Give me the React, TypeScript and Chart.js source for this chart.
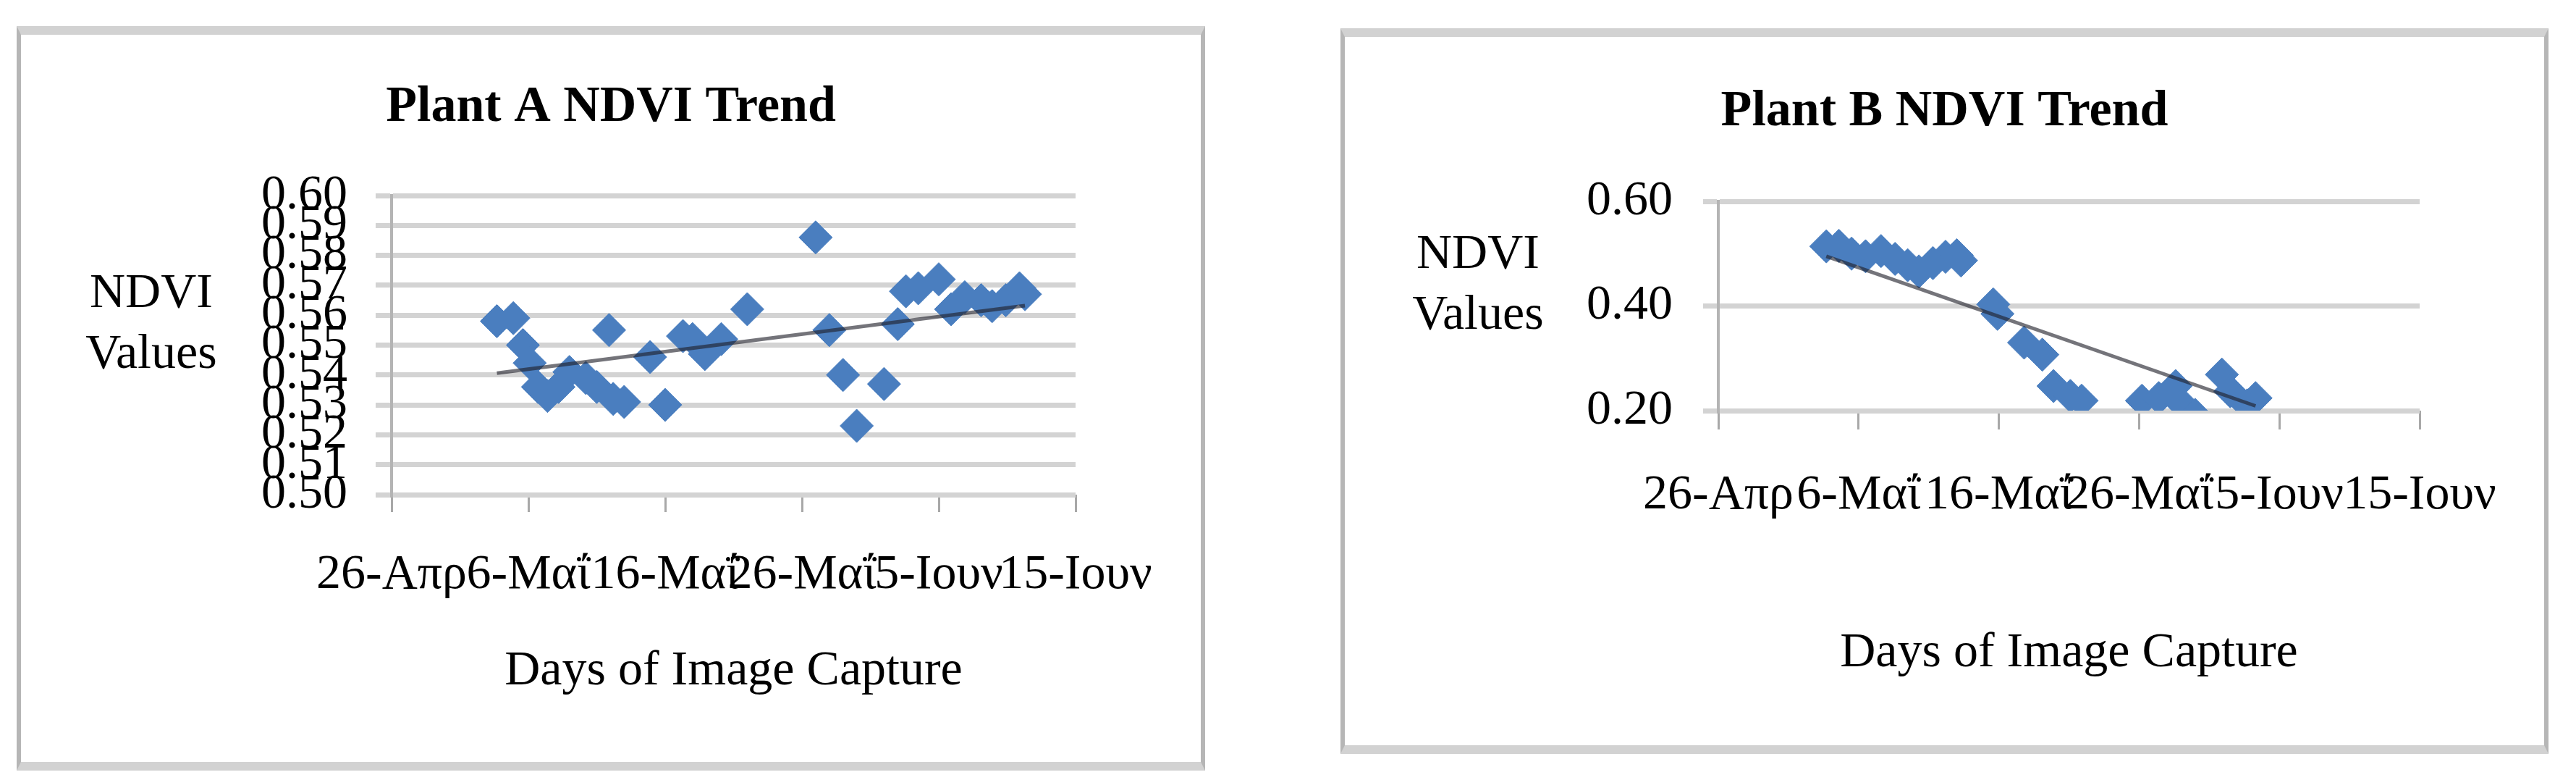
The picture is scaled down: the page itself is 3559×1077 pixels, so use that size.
import React, { useEffect, useRef } from 'react';
import { Chart, registerables } from 'chart.js';

Chart.register(...registerables);
Chart.defaults.font.family = '"Liberation Serif", "Times New Roman", serif';
Chart.defaults.color = '#000';

// x axis: days after 26 April
const xTickDays = [0, 10, 20, 30, 40, 50];
const xTickLabels = ['26-Απρ', '6-Μαΐ', '16-Μαΐ', '26-Μαΐ', '5-Ιουν', '15-Ιουν'];

// Plant A
const plantADays = [
  7.7, 8.9, 9.6, 10.1, 10.7, 11.4, 12.2, 13, 14.2, 15, 15.9, 16.2, 17, 18.9, 20, 21.3, 22, 22.9,
  24.1, 26, 31, 32, 33, 34, 36, 37, 37.6, 38.5, 40, 40.9, 41.9, 43.1, 43.9, 44.9, 45.9, 46.3,
];
const plantAValues = [
  0.558, 0.559, 0.550, 0.544, 0.536, 0.533, 0.536, 0.541, 0.539, 0.536, 0.555, 0.532, 0.531, 0.546,
  0.530, 0.553, 0.552, 0.547, 0.552, 0.562, 0.586, 0.555, 0.540, 0.523, 0.537, 0.557, 0.568, 0.569,
  0.572, 0.562, 0.566, 0.565, 0.563, 0.565, 0.569, 0.567,
];
const plantATrendDays = [7.7, 46.3];
const plantATrendValues = [0.5406, 0.5632];
const plantAYTicks = [0.5, 0.51, 0.52, 0.53, 0.54, 0.55, 0.56, 0.57, 0.58, 0.59, 0.6];
const plantAYLabels = ['0.50', '0.51', '0.52', '0.53', '0.54', '0.55', '0.56', '0.57', '0.58', '0.59', '0.60'];

// Plant B
const plantBDays = [
  7.7, 8.6, 9.5, 10.5, 11.6, 12.6, 13.5, 14.3, 15.3, 16.2, 17.0, 17.3, 19.6, 19.9, 21.8, 23.1,
  23.9, 25.1, 25.9, 30.2, 31.4, 32.6, 33, 34, 35.9, 36.5, 37.7, 38.3,
];
const plantBValues = [
  0.514, 0.515, 0.500, 0.495, 0.505, 0.490, 0.478, 0.466, 0.482, 0.494, 0.497, 0.487, 0.403, 0.385,
  0.330, 0.307, 0.247, 0.228, 0.219, 0.219, 0.224, 0.247, 0.214, 0.192, 0.269, 0.237, 0.210, 0.224,
];
const plantBTrendDays = [7.7, 38.3];
const plantBTrendValues = [0.495, 0.209];
const plantBYTicks = [0.2, 0.4, 0.6];
const plantBYLabels = ['0.20', '0.40', '0.60'];

const MARKER = '#4a7ebf';
const Y_SCALE_WIDTH = 220;

// draws the chart title centred on the whole box, and the horizontal "NDVI Values" axis label
const textPlugin = {
  id: 'ndviText',
  afterDraw(chart: any, _args: any, opts: any) {
    const { ctx, chartArea, width } = chart;
    const mid = (chartArea.top + chartArea.bottom) / 2;
    const x = chartArea.left - 332;
    ctx.save();
    ctx.fillStyle = '#000';
    ctx.textAlign = 'center';
    ctx.textBaseline = 'alphabetic';
    ctx.font = 'bold 70px "Liberation Serif"';
    ctx.fillText(opts.title, width / 2, opts.titleBaseline);
    ctx.font = '68px "Liberation Serif"';
    ctx.fillText('NDVI', x, mid - 53);
    ctx.fillText('Values', x, mid + 31);
    ctx.restore();
  },
};

interface Layout {
  width: number;
  height: number;
  padLeft: number;
  padRight: number;
  chartTop: number;
  titleBaseline: number;
  xTick: number;
  xPad: number;
  xTitleBottom: number;
  yTick: number;
  yPad: number;
  chartBottom: number;
}

interface Props {
  title: string;
  days: number[];
  values: number[];
  trendDays: number[];
  trendValues: number[];
  yTicks: number[];
  yLabels: string[];
  layout: Layout;
}

const NdviChart: React.FC<Props> = ({ title, days, values, trendDays, trendValues, yTicks, yLabels, layout }) => {
  const canvasRef = useRef<HTMLCanvasElement>(null);

  useEffect(() => {
    if (!canvasRef.current) return;
    const chart = new Chart(canvasRef.current, {
      type: 'scatter',
      data: {
        datasets: [
          {
            data: trendDays.map((d, i) => ({ x: d, y: trendValues[i] })),
            showLine: true,
            borderColor: 'rgba(30, 30, 40, 0.62)',
            borderWidth: 5,
            pointRadius: 0,
            order: 0,
          },
          {
            data: days.map((d, i) => ({ x: d, y: values[i] })),
            pointStyle: 'rectRot',
            pointRadius: 23,
            backgroundColor: MARKER,
            borderColor: MARKER,
            borderWidth: 1,
            order: 1,
          },
        ],
      },
      options: {
        responsive: false,
        animation: false,
        events: [],
        layout: { padding: { left: layout.padLeft, right: layout.padRight, top: layout.chartTop, bottom: 0 } },
        plugins: {
          legend: { display: false },
          tooltip: { enabled: false },
          title: { display: false },
          ndviText: { title, titleBaseline: layout.titleBaseline },
        },
        scales: {
          x: {
            type: 'linear',
            min: xTickDays[0],
            max: xTickDays[xTickDays.length - 1],
            afterBuildTicks: (axis: any) => {
              axis.ticks = xTickDays.map((v) => ({ value: v }));
            },
            afterFit: (s: any) => {
              s.height = layout.height - layout.chartBottom;
            },
            ticks: {
              autoSkip: false,
              maxRotation: 0,
              minRotation: 0,
              padding: layout.xPad,
              font: { size: 68 },
              color: '#000',
              callback: (_v: any, i: number) => xTickLabels[i],
            },
            grid: {
              display: true,
              drawOnChartArea: false,
              drawTicks: true,
              tickLength: layout.xTick,
              tickColor: '#a8a8a8',
              tickWidth: 3,
            },
            border: { display: false },
            title: {
              display: true,
              text: 'Days of Image Capture',
              font: { size: 68 },
              color: '#000',
              padding: { top: 0, bottom: layout.xTitleBottom },
            },
          },
          y: {
            type: 'linear',
            min: yTicks[0],
            max: yTicks[yTicks.length - 1],
            afterBuildTicks: (axis: any) => {
              axis.ticks = yTicks.map((v) => ({ value: v }));
            },
            afterFit: (s: any) => {
              s.width = Y_SCALE_WIDTH;
            },
            ticks: {
              autoSkip: false,
              padding: layout.yPad,
              font: { size: 68 },
              color: '#000',
              callback: (_v: any, i: number) => yLabels[i],
            },
            grid: {
              color: '#d3d3d3',
              lineWidth: 7,
              drawTicks: true,
              tickLength: layout.yTick,
            },
            border: { display: true, color: '#b4b4b4', width: 4 },
          },
        },
      },
      plugins: [textPlugin],
    } as any);
    return () => chart.destroy();
  }, [title, days, values, trendDays, trendValues, yTicks, yLabels, layout]);

  return <canvas ref={canvasRef} width={layout.width} height={layout.height} style={{ display: 'block' }} />;
};

const layoutA: Layout = {
  width: 1630,
  height: 1004,
  padLeft: 512 - Y_SCALE_WIDTH,
  padRight: 173,
  chartTop: 222,
  titleBaseline: 119,
  xTick: 24,
  xPad: 46,
  xTitleBottom: 84,
  yTick: 22,
  yPad: 39,
  chartBottom: 635,
};

const layoutB: Layout = {
  width: 1657,
  height: 978,
  padLeft: 516 - Y_SCALE_WIDTH,
  padRight: 172,
  chartTop: 227,
  titleBaseline: 122,
  xTick: 26,
  xPad: 50,
  xTitleBottom: 86,
  yTick: 21,
  yPad: 42,
  chartBottom: 516,
};

const boxStyle = (left: number, top: number): React.CSSProperties => ({
  position: 'absolute',
  left,
  top,
  borderTop: '12px solid #d2d2d2',
  borderBottom: '12px solid #d2d2d2',
  borderLeft: '6px solid #b6b6b6',
  borderRight: '6px solid #b6b6b6',
  background: '#fff',
});

const App: React.FC = () => (
  <div style={{ position: 'absolute', left: 0, top: 0, width: 3559, height: 1077, background: '#fff', overflow: 'hidden' }}>
    <div style={boxStyle(23, 36)}>
      <NdviChart
        title="Plant A NDVI Trend"
        days={plantADays}
        values={plantAValues}
        trendDays={plantATrendDays}
        trendValues={plantATrendValues}
        yTicks={plantAYTicks}
        yLabels={plantAYLabels}
        layout={layoutA}
      />
    </div>
    <div style={boxStyle(1852, 39)}>
      <NdviChart
        title="Plant B NDVI Trend"
        days={plantBDays}
        values={plantBValues}
        trendDays={plantBTrendDays}
        trendValues={plantBTrendValues}
        yTicks={plantBYTicks}
        yLabels={plantBYLabels}
        layout={layoutB}
      />
    </div>
  </div>
);

export default App;
